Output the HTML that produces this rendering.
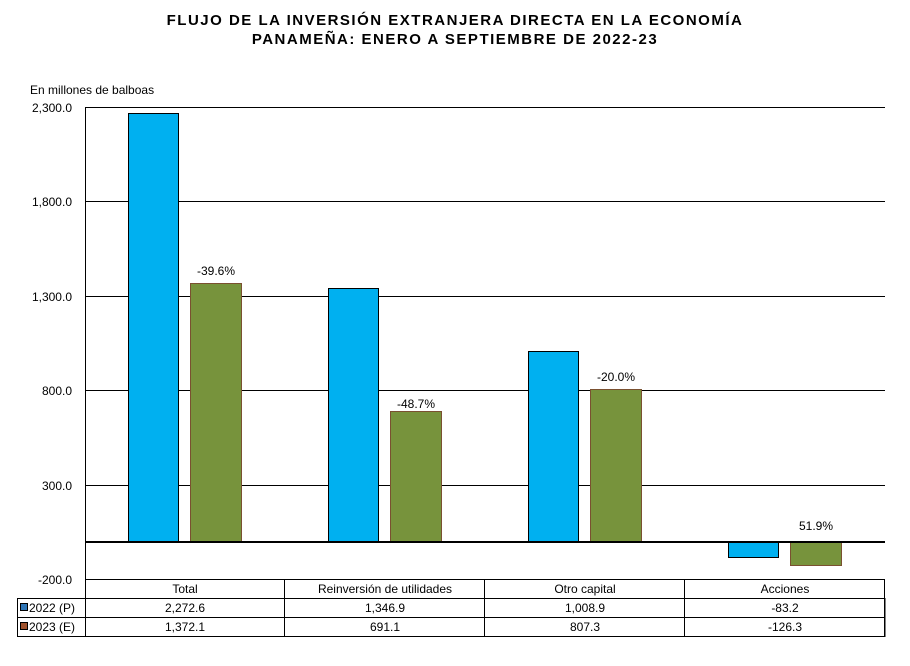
<!DOCTYPE html>
<html><head><meta charset="utf-8"><style>body{margin:0;background:#fff}</style></head><body>
<svg width="910" height="661" xmlns="http://www.w3.org/2000/svg" font-family="Liberation Sans, Arial, sans-serif">
<rect width="910" height="661" fill="#fff"/>
<text x="455" y="25" text-anchor="middle" font-size="15" font-weight="bold" letter-spacing="1.5">FLUJO DE LA INVERSIÓN EXTRANJERA DIRECTA EN LA ECONOMÍA</text>
<text x="455" y="44" text-anchor="middle" font-size="15" font-weight="bold" letter-spacing="1.5">PANAMEÑA: ENERO A SEPTIEMBRE DE 2022-23</text>
<text x="30" y="94" font-size="12">En millones de balboas</text>
<g stroke="#000" stroke-width="1">
<line x1="85" y1="107.5" x2="885" y2="107.5"/>
<line x1="85" y1="201.5" x2="885" y2="201.5"/>
<line x1="85" y1="296.5" x2="885" y2="296.5"/>
<line x1="85" y1="390.5" x2="885" y2="390.5"/>
<line x1="85" y1="485.5" x2="885" y2="485.5"/>
<line x1="85.5" y1="107" x2="85.5" y2="579"/>
</g>
<g font-size="12" text-anchor="end">
<text x="72" y="112">2,300.0</text>
<text x="72" y="206">1,800.0</text>
<text x="72" y="301">1,300.0</text>
<text x="72" y="395">800.0</text>
<text x="72" y="490">300.0</text>
<text x="72" y="584">-200.0</text>
</g>
<g stroke="#000" stroke-width="1">
<rect x="128.5" y="113.5" width="50" height="428" fill="#00B0F0"/>
<rect x="190.5" y="283.5" width="51" height="258" fill="#77933C" stroke="#7a5030"/>
<rect x="328.5" y="288.5" width="50" height="253" fill="#00B0F0"/>
<rect x="390.5" y="411.5" width="51" height="130" fill="#77933C" stroke="#7a5030"/>
<rect x="528.5" y="351.5" width="50" height="190" fill="#00B0F0"/>
<rect x="590.5" y="389.5" width="51" height="152" fill="#77933C" stroke="#7a5030"/>
<rect x="728.5" y="542" width="50" height="15.5" fill="#00B0F0"/>
<rect x="790.5" y="542" width="51" height="23.5" fill="#77933C" stroke="#7a5030"/>
</g>
<line x1="85" y1="542" x2="885" y2="542" stroke="#000" stroke-width="2"/>
<g font-size="12" text-anchor="middle">
<text x="216" y="275">-39.6%</text>
<text x="416" y="408">-48.7%</text>
<text x="616" y="381">-20.0%</text>
<text x="816" y="530">51.9%</text>
</g>
<g stroke="#000" stroke-width="1" fill="none">
<line x1="85" y1="579.5" x2="885" y2="579.5"/>
<rect x="17.5" y="598.5" width="867.5" height="38"/>
<line x1="17.5" y1="617.5" x2="885" y2="617.5"/>
<line x1="85.5" y1="579" x2="85.5" y2="636"/>
<line x1="284.5" y1="579" x2="284.5" y2="636"/>
<line x1="484.5" y1="579" x2="484.5" y2="636"/>
<line x1="684.5" y1="579" x2="684.5" y2="636"/>
<line x1="884.5" y1="579" x2="884.5" y2="636"/>
</g>
<rect x="20.5" y="603.5" width="7" height="7" fill="#2E75B6" stroke="#000"/>
<rect x="20.5" y="622.5" width="7" height="7" fill="#A0522D" stroke="#000"/>
<g font-size="12">
<text x="29" y="612">2022 (P)</text>
<text x="29" y="631">2023 (E)</text>
</g>
<g font-size="12" text-anchor="middle">
<text x="185" y="593">Total</text>
<text x="385" y="593">Reinversión de utilidades</text>
<text x="585" y="593">Otro capital</text>
<text x="785" y="593">Acciones</text>
<text x="185" y="612">2,272.6</text>
<text x="385" y="612">1,346.9</text>
<text x="585" y="612">1,008.9</text>
<text x="785" y="612">-83.2</text>
<text x="185" y="631">1,372.1</text>
<text x="385" y="631">691.1</text>
<text x="585" y="631">807.3</text>
<text x="785" y="631">-126.3</text>
</g>
</svg>
</body></html>
